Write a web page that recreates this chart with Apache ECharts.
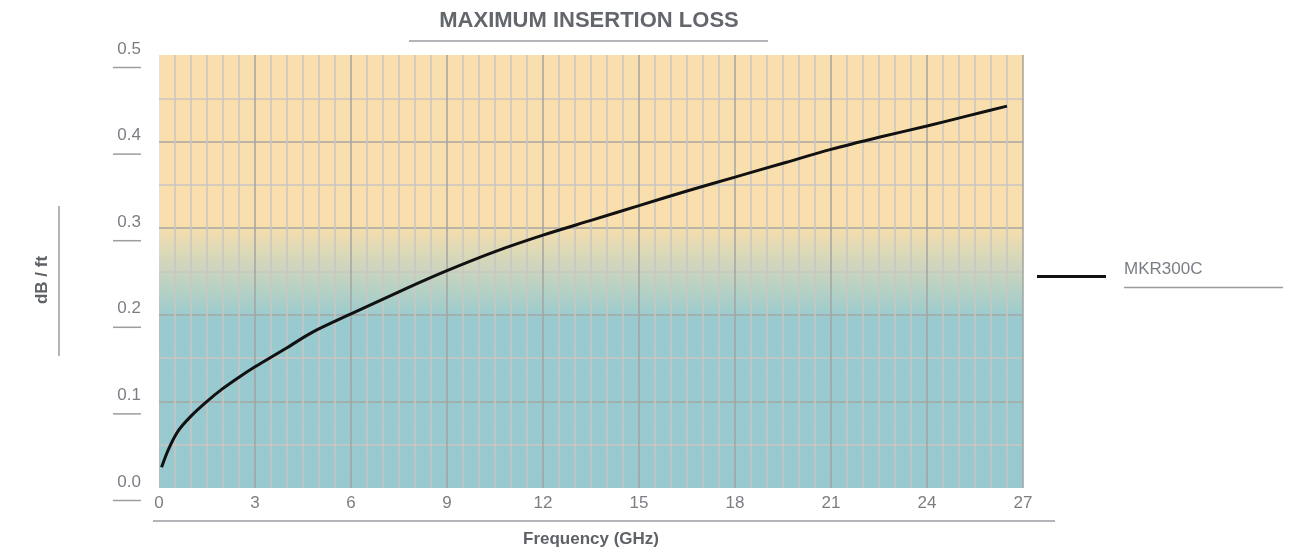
<!DOCTYPE html>
<html>
<head>
<meta charset="utf-8">
<script src="https://cdn.jsdelivr.net/npm/echarts@6/dist/echarts.min.js"></script>
<style>
  html, body { margin: 0; padding: 0; background: #fff; }
  #chart { width: 1304px; height: 550px; }
</style>
</head>
<body>
<div id="chart"></div>
<script>
const seriesName = "MKR300C";
const freqGHz = [0.08, 0.3, 0.6, 1.0, 1.5, 2.0, 2.5, 3.0, 3.5, 4.0, 4.8, 6, 7.7, 9, 10.5, 12, 13.5, 15, 16.5, 18, 19.5, 21, 22.5, 24, 25.3, 26.5];
const lossDbFt = [0.024, 0.045, 0.066, 0.083, 0.1, 0.115, 0.128, 0.14, 0.151, 0.162, 0.18, 0.201, 0.23, 0.251, 0.273, 0.292, 0.309, 0.326, 0.343, 0.359, 0.375, 0.391, 0.405, 0.418, 0.43, 0.441];

const font = "'Liberation Sans', Arial, Helvetica, sans-serif";
const labelGray = "#7a7e84";
const darkGray = "#5e6267";
const ruleGray = "#9a9da1";

const chart = echarts.init(document.getElementById("chart"), null, { renderer: "canvas" });

chart.setOption({
  animation: false,
  textStyle: { fontFamily: font },
  title: {
    text: "MAXIMUM INSERTION LOSS",
    left: 589,
    top: 10,
    padding: 0,
    textAlign: "center",
    textStyle: { fontSize: 22, fontWeight: "bold", color: "#63676c", fontFamily: font },
  },
  legend: {
    left: 1037,
    top: 261,
    padding: 0,
    itemWidth: 69,
    itemHeight: 3,
    icon: "rect",
    data: [seriesName],
    formatter: (name) => `{n|${name}}\n{u|}`,
    textStyle: {
      padding: [0, 0, 0, 13],
      rich: {
        n: { fontSize: 17, color: labelGray, lineHeight: 22, fontFamily: font },
        u: { width: 159, height: 1.5, backgroundColor: ruleGray, lineHeight: 14 },
      },
    },
  },
  grid: {
    left: 159,
    top: 55,
    right: 281,
    bottom: 62,
    outerBoundsMode: "none",
    containLabel: false,
    show: true,
    borderWidth: 0,
    backgroundColor: new echarts.graphic.LinearGradient(0, 0, 0, 1, [
      { offset: 0, color: "#f9dfad" },
      { offset: 0.39, color: "#f9dfad" },
      { offset: 0.61, color: "#98cacf" },
      { offset: 1, color: "#97c9cf" },
    ]),
  },
  xAxis: {
    type: "value",
    min: 0,
    max: 27,
    interval: 3,
    name: "Frequency (GHz)",
    nameLocation: "middle",
    nameGap: 43,
    nameTextStyle: { fontSize: 17, fontWeight: "bold", color: darkGray, fontFamily: font },
    axisLine: { show: false },
    axisTick: { show: false },
    axisLabel: { fontSize: 17, color: labelGray, margin: 7, fontFamily: font },
    splitLine: { show: true, showMinLine: false, lineStyle: { color: "#a3a3a3", width: 1.5 } },
    minorTick: { show: false, splitNumber: 6 },
    minorSplitLine: { show: true, lineStyle: { color: "#c9c6c2", width: 1.5 } },
  },
  yAxis: {
    type: "value",
    min: 0,
    max: 0.5,
    interval: 0.1,
    axisLine: { show: false },
    axisTick: { show: false },
    axisLabel: {
      margin: 18,
      formatter: (v) => `{v|${v.toFixed(1)}}\n{u|}`,
      rich: {
        v: { fontSize: 17, color: labelGray, lineHeight: 25, fontFamily: font },
        u: { width: 28, height: 1.5, backgroundColor: ruleGray, lineHeight: 12 },
      },
    },
    splitLine: { show: true, showMinLine: false, showMaxLine: false, lineStyle: { color: "#a8a6a4", width: 1.5 } },
    minorTick: { show: false, splitNumber: 2 },
    minorSplitLine: { show: true, lineStyle: { color: "#c9c6c2", width: 1.5 } },
  },
  graphic: [
    { type: "line", shape: { x1: 409, y1: 41, x2: 768, y2: 41 }, style: { stroke: ruleGray, lineWidth: 1.5 } },
    { type: "line", shape: { x1: 59, y1: 206, x2: 59, y2: 356 }, style: { stroke: ruleGray, lineWidth: 1.5 } },
    { type: "line", shape: { x1: 153, y1: 521, x2: 1055, y2: 521 }, style: { stroke: ruleGray, lineWidth: 1.5 } },
    {
      type: "text",
      x: 42,
      y: 280,
      rotation: Math.PI / 2,
      style: {
        text: "dB / ft",
        font: `bold 17px ${font}`,
        fill: darkGray,
        align: "center",
        verticalAlign: "middle",
      },
    },
  ],
  series: [
    {
      name: seriesName,
      type: "line",
      smooth: 0.3,
      showSymbol: false,
      data: freqGHz.map((f, i) => [f, lossDbFt[i]]),
      lineStyle: { color: "#111111", width: 3 },
      itemStyle: { color: "#111111" },
    },
  ],
});
</script>
</body>
</html>
